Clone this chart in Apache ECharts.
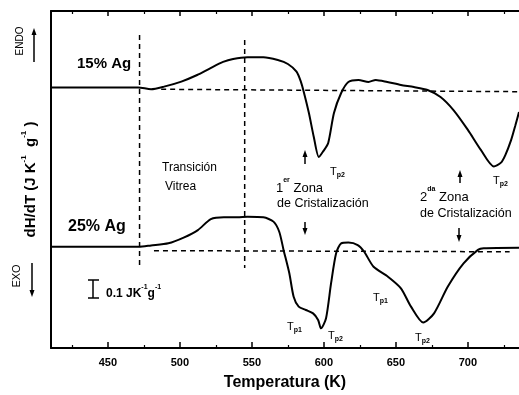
<!DOCTYPE html>
<html>
<head>
<meta charset="utf-8">
<script src="https://cdn.jsdelivr.net/npm/echarts@6/dist/echarts.min.js"></script>
<style>
  html, body { margin: 0; background: #fff; }
  #chart { width: 519px; height: 395px; }
</style>
</head>
<body>
<div id="chart"></div>
<script>
// 15% Ag trace (K, heat flow in 0.001 J/K/g, traces offset)
const temp15 = [411, 445, 471, 480, 489, 501, 512, 521, 530, 537, 547, 558, 568, 575, 581, 584, 586, 589.6, 593, 596.5, 599.5, 603, 607, 612, 617, 624, 631, 636, 644, 653.5, 662.5, 672, 681, 690, 700, 709, 718, 723, 726, 730, 733, 735.5]
const flow15 = [139.2, 139.2, 139.2, 138.2, 139.6, 142.3, 145.8, 149.4, 152.8, 154.4, 155.3, 155.3, 153.8, 151.7, 147.6, 142.3, 136.9, 125.5, 112.7, 102.0, 105.0, 109.5, 125.5, 136.2, 142.1, 143.2, 142.1, 143.2, 142.1, 140.5, 139.4, 137.8, 134.1, 127.1, 116.5, 105.8, 97.0, 99.0, 103.0, 111.0, 119.0, 126.0]

// 25% Ag trace
const temp25 = [411, 471.5, 480, 492, 503, 512.5, 521.5, 530.5, 540, 547, 558, 565, 569, 572, 576, 579, 582.5, 587.5, 592.5, 596, 598, 601.5, 605, 608.5, 612, 617, 623.5, 628, 634.5, 644.5, 653.5, 660.5, 669, 676.5, 686, 697, 707, 711, 735.5]
const flow25 = [54.1, 54.1, 54.8, 55.9, 59.1, 63.0, 68.8, 69.8, 69.8, 70.1, 69.8, 67.5, 62.1, 52.4, 39.9, 27.4, 22.1, 20.3, 18.5, 15.0, 10.5, 15.9, 34.6, 50.6, 55.9, 56.3, 55.0, 51.4, 43.4, 38.1, 31.9, 22.1, 13.6, 18.5, 32.7, 45.2, 52.4, 53.3, 53.6]

// dashed baselines (start, end)
const base15T = [487, 735.5]
const base15V = [138.2, 136.9]
const base25T = [482, 729]
const base25V = [52.0, 51.4]

// glass transition guide lines
const guideT = [472, 545]
const guideTop = [167.2, 164.5]
const guideBottom = [44.3, 42.7]

const majorTicks = [450, 500, 550, 600, 650, 700]
const minorTicks = [425, 475, 525, 575, 625, 675, 725]

const FONT = 'Liberation Sans'

function zip(xs, ys) {
  return xs.map((x, i) => [x, ys[i]])
}

function arrow(x, from, to) {
  const dir = to > from ? 1 : -1
  return {
    type: 'group',
    children: [
      { type: 'line', shape: { x1: x, y1: from, x2: x, y2: to - dir * 4 }, style: { stroke: '#000', lineWidth: 1.5 } },
      { type: 'polygon', shape: { points: [[x, to], [x - 2.5, to - dir * 7], [x + 2.5, to - dir * 7]] }, style: { fill: '#000' } },
    ],
  }
}

function label(x, y, text, size, weight) {
  return {
    type: 'text', x: x, y: y,
    style: { text: text, fill: '#000', fontFamily: FONT, fontSize: size, fontWeight: weight || 'normal', textAlign: 'left', textVerticalAlign: 'middle' },
  }
}

function tp(x, y, sub) {
  return {
    type: 'text', x: x, y: y,
    style: {
      text: '{t|T}{p|' + sub + '}', textAlign: 'left', textVerticalAlign: 'middle',
      rich: {
        t: { fontFamily: FONT, fontSize: 11, fill: '#000', lineHeight: 14, verticalAlign: 'middle' },
        p: { fontFamily: FONT, fontSize: 7, fontWeight: 'bold', fill: '#000', lineHeight: 14, verticalAlign: 'bottom' },
      },
    },
  }
}

function zona(x, y, num, sup) {
  return {
    type: 'text', x: x, y: y,
    style: {
      text: '{n|' + num + '}{s|' + sup + '}{n| Zona}', textAlign: 'left', textVerticalAlign: 'middle',
      rich: {
        n: { fontFamily: FONT, fontSize: 13, fill: '#000', lineHeight: 18, verticalAlign: 'bottom' },
        s: { fontFamily: FONT, fontSize: 7, fontWeight: 'bold', fill: '#000', lineHeight: 18, verticalAlign: 'top' },
      },
    },
  }
}

function curve(name, data) {
  return {
    name: name, type: 'line', data: data, smooth: 0.25, showSymbol: false,
    lineStyle: { color: '#000', width: 2 }, z: 3,
  }
}

function dashed(data) {
  return {
    type: 'line', data: data, showSymbol: false, silent: true,
    lineStyle: { color: '#000', width: 1.5, type: [5, 4] }, z: 2,
  }
}

const xBase = { type: 'value', min: 410.5, max: 735.5, splitLine: { show: false } }

const chart = echarts.init(document.getElementById('chart'))

chart.setOption({
  animation: false,
  backgroundColor: '#fff',
  grid: { left: 51, right: 0, top: 11, bottom: 47, outerBoundsMode: 'none' },
  xAxis: [
    Object.assign({}, xBase, {
      position: 'bottom',
      name: 'Temperatura (K)', nameLocation: 'middle', nameGap: 27, nameMoveOverlap: false,
      nameTextStyle: { fontFamily: FONT, fontSize: 16, fontWeight: 'bold', color: '#000' },
      axisLine: { lineStyle: { color: '#000', width: 2 } },
      axisTick: { inside: true, length: 6, customValues: majorTicks, lineStyle: { color: '#000', width: 1.5 } },
      axisLabel: { customValues: majorTicks, margin: 9, fontFamily: FONT, fontSize: 11, fontWeight: 'bold', color: '#000' },
    }),
    Object.assign({}, xBase, {
      position: 'bottom',
      axisLine: { show: false },
      axisTick: { inside: true, length: 3, customValues: minorTicks, lineStyle: { color: '#000', width: 1.2 } },
      axisLabel: { show: false },
    }),
    Object.assign({}, xBase, {
      position: 'top',
      axisLine: { lineStyle: { color: '#000', width: 2 } },
      axisTick: { inside: true, length: 5, customValues: majorTicks, lineStyle: { color: '#000', width: 1.5 } },
      axisLabel: { show: false },
    }),
    Object.assign({}, xBase, {
      position: 'top',
      axisLine: { show: false },
      axisTick: { inside: true, length: 3, customValues: minorTicks, lineStyle: { color: '#000', width: 1.2 } },
      axisLabel: { show: false },
    }),
  ],
  yAxis: {
    type: 'value', min: 0, max: 180,
    axisLine: { show: true, lineStyle: { color: '#000', width: 2 } },
    axisTick: { show: false },
    axisLabel: { show: false },
    splitLine: { show: false },
    name: '{b|dH/dT (J K}{s|-1}{b|  g}{s|-1}{b| )}',
    nameLocation: 'middle', nameRotate: 90, nameGap: 13, nameMoveOverlap: false,
    nameTextStyle: {
      rich: {
        b: { fontFamily: FONT, fontSize: 15, fontWeight: 'bold', color: '#000', lineHeight: 18, verticalAlign: 'bottom' },
        s: { fontFamily: FONT, fontSize: 8, fontWeight: 'bold', color: '#000', lineHeight: 18, verticalAlign: 'top' },
      },
    },
  },
  series: [
    curve('15% Ag', zip(temp15, flow15)),
    curve('25% Ag', zip(temp25, flow25)),
    dashed(zip(base15T, base15V)),
    dashed(zip(base25T, base25V)),
    dashed([[guideT[0], guideTop[0]], [guideT[0], guideBottom[0]]]),
    dashed([[guideT[1], guideTop[1]], [guideT[1], guideBottom[1]]]),
  ],
  graphic: [
    label(77, 64, '15% Ag', 15, 'bold'),
    label(68, 227, '25% Ag', 16, 'bold'),
    label(162, 168, 'Transición', 12),
    label(165, 187, 'Vitrea', 12),
    zona(276, 186, '1', 'er'),
    label(277, 204, 'de Cristalización', 12.5),
    zona(420, 195, '2', 'da'),
    label(420, 214, 'de Cristalización', 12.5),
    arrow(305, 164, 150),
    arrow(305, 222, 235),
    arrow(460, 183, 170),
    arrow(459, 228, 242),
    tp(330, 172, 'p2'),
    tp(493, 181, 'p2'),
    tp(287, 327, 'p1'),
    tp(328, 336, 'p2'),
    tp(373, 298, 'p1'),
    tp(415, 338, 'p2'),
    {
      type: 'text', x: 20, y: 41, rotation: Math.PI / 2,
      style: { text: 'ENDO', fill: '#000', fontFamily: FONT, fontSize: 10, textAlign: 'center', textVerticalAlign: 'middle' },
    },
    arrow(34, 62, 28),
    {
      type: 'text', x: 17, y: 276, rotation: Math.PI / 2,
      style: { text: 'EXO', fill: '#000', fontFamily: FONT, fontSize: 11, textAlign: 'center', textVerticalAlign: 'middle' },
    },
    arrow(32, 263, 297),
    // 0.1 J K-1 g-1 scale bar
    { type: 'line', shape: { x1: 93, y1: 280, x2: 93, y2: 298 }, style: { stroke: '#000', lineWidth: 1.5 } },
    { type: 'line', shape: { x1: 88, y1: 280, x2: 99, y2: 280 }, style: { stroke: '#000', lineWidth: 1.5 } },
    { type: 'line', shape: { x1: 88, y1: 298, x2: 99, y2: 298 }, style: { stroke: '#000', lineWidth: 1.5 } },
    {
      type: 'text', x: 106, y: 292,
      style: {
        text: '{b|0.1 JK}{s|-1}{b|g}{s|-1}', textAlign: 'left', textVerticalAlign: 'middle',
        rich: {
          b: { fontFamily: FONT, fontSize: 12, fontWeight: 'bold', fill: '#000', lineHeight: 16, verticalAlign: 'bottom' },
          s: { fontFamily: FONT, fontSize: 7, fontWeight: 'bold', fill: '#000', lineHeight: 16, verticalAlign: 'top' },
        },
      },
    },
  ],
})
</script>
</body>
</html>
